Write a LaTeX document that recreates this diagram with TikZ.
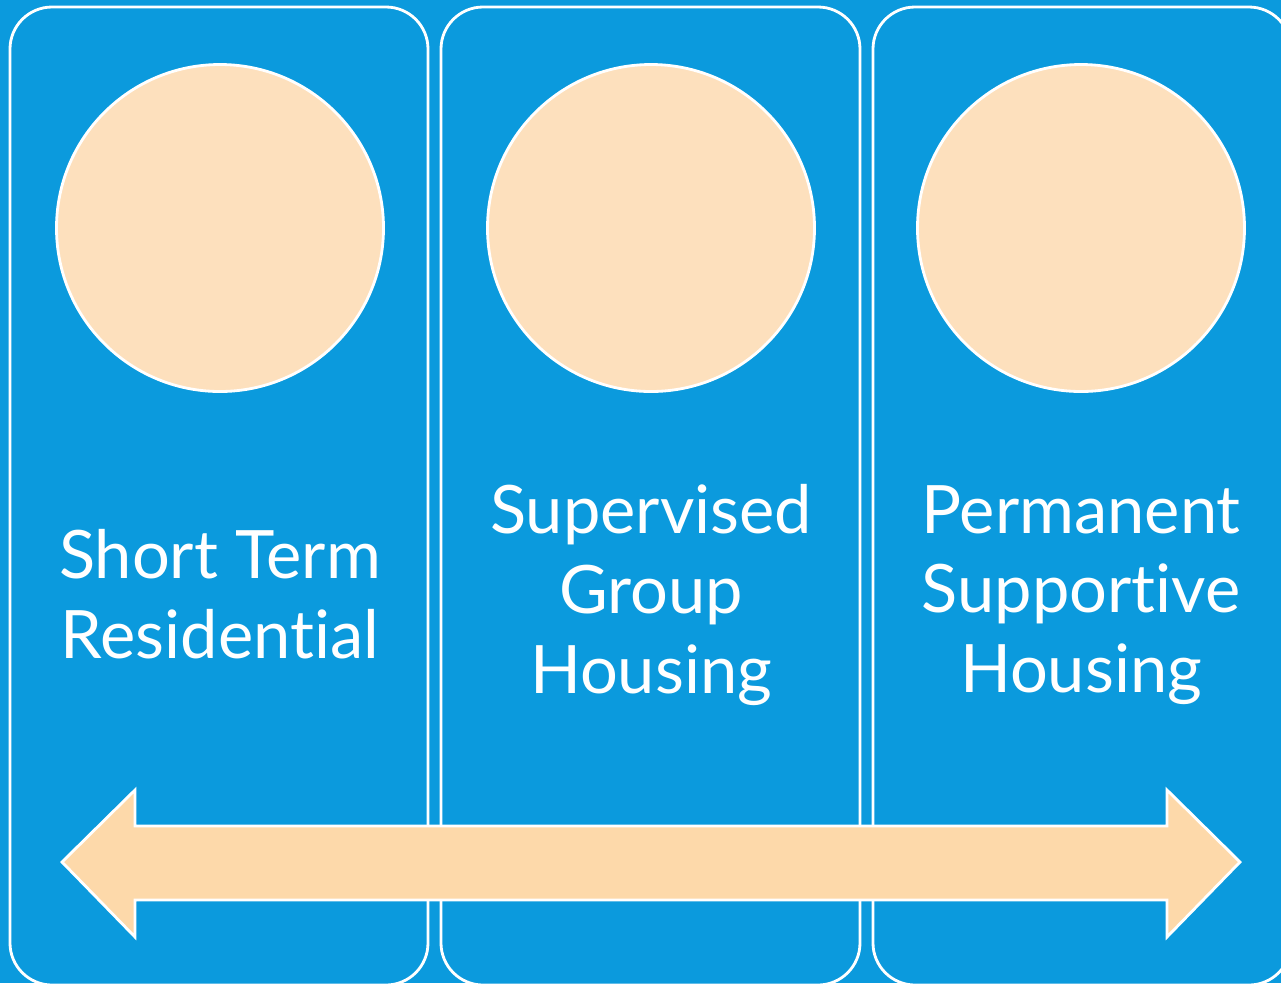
\documentclass[tikz,border=0pt]{standalone}
\usepackage{fontspec}
\setmainfont{Lato}[Ligatures={NoCommon}]
\definecolor{panelblue}{HTML}{0B9ADD}
\definecolor{disc}{HTML}{FDE0BD}
\definecolor{band}{HTML}{FDD9AA}
\begin{document}
\begin{tikzpicture}[
    panel/.style={draw=white, line width=0.8pt, fill=panelblue, rounded corners=0.42cm},
    stage/.style={draw=white, line width=0.8pt, fill=disc, circle, minimum size=3.27cm, inner sep=0pt},
    caption/.style={text=white, align=center, font=\fontsize{19}{22.7}\selectfont}
  ]
  \useasboundingbox (0,0) rectangle (12.81,-9.83);
  \clip (0,0) rectangle (12.81,-9.83);
  \fill[panelblue] (0,0) rectangle (12.81,-9.83);

  % the three columns
  \draw[panel] (0.10,-0.07) rectangle (4.28,-9.85);
  \draw[panel] (4.41,-0.07) rectangle (8.60,-9.85);
  \draw[panel] (8.73,-0.07) rectangle (12.91,-9.85);

  \node[stage] (c1) at (2.20,-2.28) {};
  \node[stage] (c2) at (6.51,-2.28) {};
  \node[stage] (c3) at (10.81,-2.28) {};

  \node[caption] (t1) at (2.20,-5.94) {Short Term\\Residential};
  \node[caption] (t2) at (6.51,-5.95) {Supervised\\Group\\Housing};
  \node[caption] (t3) at (10.81,-5.95) {Permanent\\Supportive\\Housing};

  % arrow running across all columns
  \draw[white, line width=0.8pt, fill=band]
    (0.62,-8.62) -- (1.35,-7.90) -- (1.35,-8.26) -- (11.67,-8.26) -- (11.67,-7.90)
    -- (12.40,-8.62) -- (11.67,-9.37) -- (11.67,-9.00) -- (1.35,-9.00) -- (1.35,-9.37) -- cycle;
\end{tikzpicture}
\end{document}
